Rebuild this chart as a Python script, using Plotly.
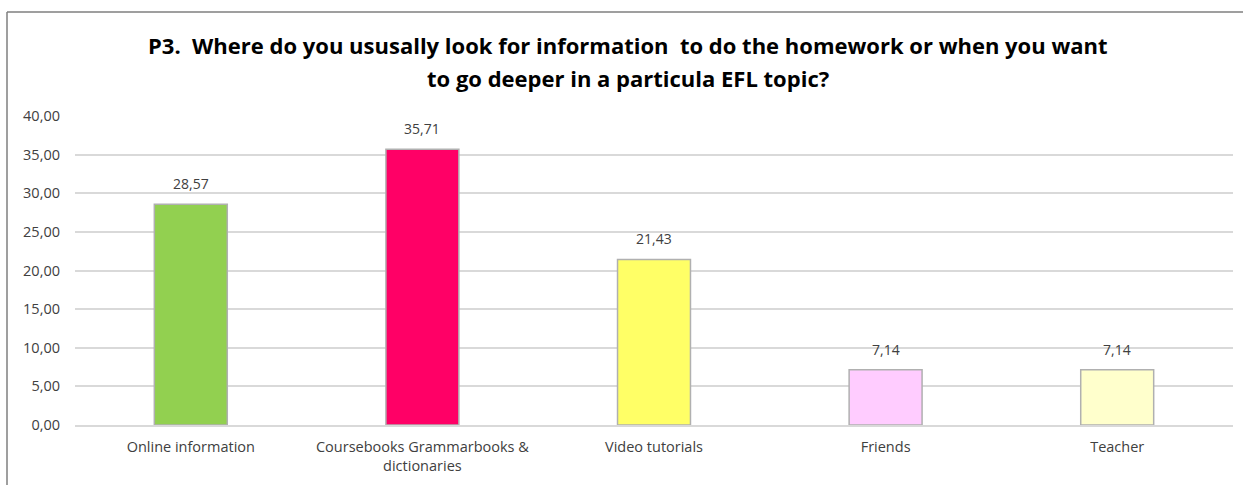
import plotly.graph_objects as go

categories = ["Online information", "Coursebooks Grammarbooks &<br>dictionaries",
              "Video tutorials", "Friends", "Teacher"]
values = [28.57, 35.71, 21.43, 7.14, 7.14]
bar_colors = ["#92D050", "#FF0066", "#FFFF66", "#FFCCFF", "#FFFFCC"]
y_ticks = [0, 5, 10, 15, 20, 25, 30, 35, 40]

title_lines = [
    "P3.\u00a0 Where do you ususally look for information\u00a0 to do the homework or when you want",
    "to go deeper in a particula EFL topic?",
]

W, H = 1243, 485
ml, mr, mt, mb = 75, 10, 116, 60
pw, ph = W - ml - mr, H - mt - mb
FONT = "Open Sans, sans-serif"

fig = go.Figure(go.Bar(
    x=categories, y=values,
    marker=dict(color=bar_colors, line=dict(color="#B0B0B0", width=1.5)),
    hoverinfo="x+y",
))

# value labels above each bar
for c, v in zip(categories, values):
    fig.add_annotation(x=c, y=v, text=f"{v:.2f}".replace(".", ","), showarrow=False,
                       yanchor="bottom", yshift=9,
                       font=dict(family=FONT, size=14, color="#404040"))

# two-line bold title
for i, line in enumerate(title_lines):
    fig.add_annotation(xref="paper", yref="paper",
                       x=(628 - ml) / pw, y=(H - mb - (45 + 33 * i)) / ph,
                       text=f"<b>{line}</b>", showarrow=False,
                       xanchor="center", yanchor="middle",
                       font=dict(family=FONT, size=22, color="#000000"))

# chart border (left and top edges visible)
bx = (7 - ml) / pw
by = (H - mb - 12) / ph
fig.add_shape(type="line", xref="paper", yref="paper", x0=bx, x1=bx, y0=by, y1=-0.3,
              line=dict(color="#7F7F7F", width=1.5))
fig.add_shape(type="line", xref="paper", yref="paper", x0=bx, x1=1.05, y0=by, y1=by,
              line=dict(color="#7F7F7F", width=1.5))

fig.update_layout(
    width=W, height=H,
    margin=dict(l=ml, r=mr, t=mt, b=mb),
    paper_bgcolor="white", plot_bgcolor="white",
    separators=",.",
    bargap=0.685,
    showlegend=False,
    font=dict(family=FONT, size=14, color="#404040"),
    xaxis=dict(showgrid=False, showline=True, linecolor="#D9D9D9", linewidth=1.5,
               ticks="", ticklabelstandoff=8, tickfont=dict(size=14.5, color="#404040")),
    yaxis=dict(range=[0, 40], tickvals=y_ticks, tickformat=".2f", showgrid=True,
               gridcolor="#D9D9D9", gridwidth=1.5, zeroline=False, showline=False,
               ticks="", ticklabelstandoff=14, tickfont=dict(size=14.5, color="#404040")),
)

fig.write_html("out.html")
